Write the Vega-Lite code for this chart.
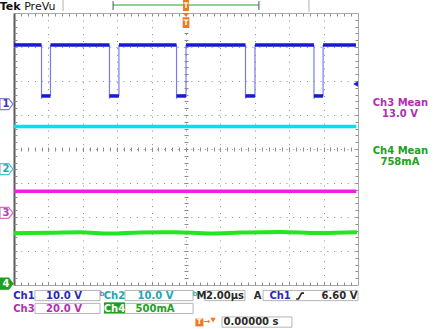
{
  "$schema": "https://vega.github.io/schema/vega-lite/v6.json",
  "width": 344,
  "height": 272,
  "autosize": "none",
  "padding": {"left": 14, "top": 13, "right": 81, "bottom": 44},
  "background": "#ffffff",
  "config": {"view": {"stroke": null}, "font": "DejaVu Sans", "axis": {"labels": false, "tickColor": "#8c8c8c", "tickWidth": 1, "grid": false, "domain": false}},
  "datasets": {
    "levels": [
      {"ch": "Ch1", "t": -10, "t2": -8.40, "v": 3.06},
      {"ch": "Ch1", "t": -7.88, "t2": -4.45, "v": 3.06},
      {"ch": "Ch1", "t": -3.90, "t2": -0.55, "v": 3.06},
      {"ch": "Ch1", "t": 0, "t2": 3.46, "v": 3.06},
      {"ch": "Ch1", "t": 4.01, "t2": 7.44, "v": 3.06},
      {"ch": "Ch1", "t": 7.97, "t2": 9.88, "v": 3.06},
      {"ch": "Ch1", "t": -8.40, "t2": -7.88, "v": 1.56},
      {"ch": "Ch1", "t": -4.45, "t2": -3.90, "v": 1.56},
      {"ch": "Ch1", "t": -0.55, "t2": 0, "v": 1.56},
      {"ch": "Ch1", "t": 3.46, "t2": 4.01, "v": 1.56},
      {"ch": "Ch1", "t": 7.44, "t2": 7.97, "v": 1.56},
      {"ch": "Ch2", "t": -10, "t2": 9.9, "v": 0.66},
      {"ch": "Ch3", "t": -10, "t2": 9.9, "v": -1.24}
    ],
    "edges": [
      {"t": -8.40, "v": 1.48, "v2": 3.06},
      {"t": -7.88, "v": 1.56, "v2": 3.06},
      {"t": -4.45, "v": 1.48, "v2": 3.06},
      {"t": -3.90, "v": 1.56, "v2": 3.06},
      {"t": -0.55, "v": 1.48, "v2": 3.06},
      {"t": 0, "v": 1.56, "v2": 3.06},
      {"t": 3.46, "v": 1.48, "v2": 3.06},
      {"t": 4.01, "v": 1.56, "v2": 3.06},
      {"t": 7.44, "v": 1.48, "v2": 3.06},
      {"t": 7.97, "v": 1.56, "v2": 3.06}
    ],
    "ch4": [
      {"t": -10, "v": -2.476},
      {"t": -7.91, "v": -2.465},
      {"t": -6.16, "v": -2.450},
      {"t": -4.42, "v": -2.488},
      {"t": -2.67, "v": -2.453},
      {"t": -0.64, "v": -2.447},
      {"t": 1.40, "v": -2.482},
      {"t": 3.14, "v": -2.459},
      {"t": 5.47, "v": -2.441},
      {"t": 7.79, "v": -2.471},
      {"t": 9.94, "v": -2.447}
    ],
    "tags": [
      {"n": "1", "t": -10.44, "tt": -10.47, "v": 1.32},
      {"n": "2", "t": -10.44, "tt": -10.47, "v": -0.59},
      {"n": "3", "t": -10.44, "tt": -10.47, "v": -1.88},
      {"n": "4", "t": -10.44, "tt": -10.47, "v": -3.96}
    ],
    "readouts": [
      {"text": "Ch1", "t": -9.42, "v": -4.33, "ch": "Ch1"},
      {"text": "10.0 V", "t": -7.09, "v": -4.33, "ch": "Ch1"},
      {"text": "Ch2", "t": -4.16, "v": -4.33, "ch": "Ch2"},
      {"text": "10.0 V", "t": -1.77, "v": -4.33, "ch": "Ch2"},
      {"text": "M", "t": 0.90, "v": -4.33, "ch": "sys"},
      {"text": "2.00µs", "t": 2.27, "v": -4.33, "ch": "sys"},
      {"text": "A", "t": 4.16, "v": -4.33, "ch": "sys"},
      {"text": "Ch1", "t": 5.47, "v": -4.33, "ch": "Ch1"},
      {"text": "6.60 V", "t": 8.92, "v": -4.33, "ch": "sys"},
      {"text": "Ch3", "t": -9.42, "v": -4.70, "ch": "Ch3"},
      {"text": "20.0 V", "t": -7.09, "v": -4.70, "ch": "Ch3"},
      {"text": "500mA", "t": -1.80, "v": -4.70, "ch": "Ch4"},
      {"text": "0.00000 s", "t": 3.78, "v": -5.09, "ch": "sys"},
      {"text": "Ch3 Mean", "t": 12.47, "v": 1.35, "ch": "Ch3"},
      {"text": "13.0 V", "t": 12.44, "v": 1.03, "ch": "Ch3"},
      {"text": "Ch4 Mean", "t": 12.47, "v": -0.06, "ch": "Ch4"},
      {"text": "758mA", "t": 12.44, "v": -0.38, "ch": "Ch4"}
    ],
    "boxes": [
      {"t": -8.78, "t2": -5.0, "v": -4.16, "v2": -4.46},
      {"t": -3.55, "t2": 0.41, "v": -4.16, "v2": -4.46},
      {"t": 1.10, "t2": 3.43, "v": -4.16, "v2": -4.46},
      {"t": 4.48, "t2": 10.0, "v": -4.16, "v2": -4.46},
      {"t": -8.78, "t2": -5.0, "v": -4.54, "v2": -4.84},
      {"t": -3.55, "t2": 0.41, "v": -4.54, "v2": -4.84},
      {"t": 2.09, "t2": 6.16, "v": -4.94, "v2": -5.24}
    ],
    "ch4tag": [{"text": "Ch4", "t": -4.77, "t2": -3.55, "tc": -4.16, "v": -4.51, "v2": -4.84, "vc": -4.70}],
    "bw": [{"text": "b", "t": -4.88, "v": -4.26, "ch": "Ch1"}, {"text": "b", "t": 0.52, "v": -4.26, "ch": "Ch2"}],
    "edgeicon": [{"t": 6.40, "v": -4.41}, {"t": 6.54, "v": -4.41}, {"t": 6.72, "v": -4.24}, {"t": 6.86, "v": -4.24}],
    "header": [{"text": "Tek", "t": -10.23, "v": 4.19}],
    "header2": [{"text": "PreVu", "t": -8.50, "v": 4.19}],
    "toplines": [
      {"t": -7.15, "v": 4.38, "v2": 4.06, "kind": "sep"},
      {"t": 7.15, "v": 4.38, "v2": 4.03, "kind": "sep"},
      {"t": -4.24, "v": 4.35, "v2": 4.09, "kind": "bracket"},
      {"t": 4.24, "v": 4.35, "v2": 4.09, "kind": "bracket"}
    ],
    "recbar": [{"t": -4.24, "t2": 4.24, "v": 4.235}],
    "trigtop": [{"t": 0, "v": 4.22}],
    "triglow": [{"t": 0, "v": 3.78}],
    "trigT": [{"text": "T", "t": 0, "v": 4.21}, {"text": "T", "t": 0, "v": 3.71}, {"text": "T", "t": 0.78, "v": -5.10}],
    "trigbottom": [{"t": 0.78, "v": -5.10}],
    "trigarrow": [{"text": "→", "t": 1.22, "v": -5.10}],
    "trigdown": [{"t": 1.57, "v": -5.03}],
    "triglevel": [{"t": 9.86, "v": 1.91}]
  },
  "resolve": {
    "scale": {"color": "independent", "fill": "independent", "stroke": "independent"},
    "axis": {"x": "independent", "y": "independent"}
  },
  "layer": [
    {
      "data": {"name": "edges"},
      "mark": {"type": "rule", "strokeWidth": 1.2, "color": "#7a7af0"},
      "encoding": {
        "x": {"field": "t", "type": "quantitative", "scale": {"domain": [-10, 10]},
          "axis": {"orient": "bottom", "values": [-8, -6, -4, -2, 0, 2, 4, 6, 8], "grid": true, "gridDash": [1, 5.88], "gridColor": "#8c8c8c", "ticks": false, "labels": false, "title": null, "domain": true, "domainColor": "#a8a8a8"}},
        "y": {"field": "v", "type": "quantitative", "scale": {"domain": [-4, 4]},
          "axis": {"orient": "left", "values": [-3, -2, -1, 0, 1, 2, 3], "grid": true, "gridDash": [1, 5.8], "gridColor": "#8c8c8c", "ticks": false, "labels": false, "title": null, "domain": true, "domainColor": "#5a5a5a", "domainWidth": 2}},
        "y2": {"field": "v2"}
      }
    },
    {
      "data": {"name": "levels"},
      "mark": {"type": "rule", "strokeWidth": 3.5},
      "encoding": {
        "x": {"field": "t", "type": "quantitative", "scale": {"domain": [-10, 10]},
          "axis": {"orient": "top", "values": [-10, -9.6, -9.2, -8.8, -8.4, -8, -7.6, -7.2, -6.8, -6.4, -6, -5.6, -5.2, -4.8, -4.4, -4, -3.6, -3.2, -2.8, -2.4, -2, -1.6, -1.2, -0.8, -0.4, 0, 0.4, 0.8, 1.2, 1.6, 2, 2.4, 2.8, 3.2, 3.6, 4, 4.4, 4.8, 5.2, 5.6, 6, 6.4, 6.8, 7.2, 7.6, 8, 8.4, 8.8, 9.2, 9.6, 10], "tickSize": -3, "labels": false, "title": null, "domain": true, "domainColor": "#a8a8a8"}},
        "x2": {"field": "t2"},
        "y": {"field": "v", "type": "quantitative", "scale": {"domain": [-4, 4]},
          "axis": {"orient": "right", "values": [-3.8, -3.6, -3.4, -3.2, -3, -2.8, -2.6, -2.4, -2.2, -2, -1.8, -1.6, -1.4, -1.2, -1, -0.8, -0.6, -0.4, -0.2, 0, 0.2, 0.4, 0.6, 0.8, 1, 1.2, 1.4, 1.6, 1.8, 2, 2.2, 2.4, 2.6, 2.8, 3, 3.2, 3.4, 3.6, 3.8], "tickSize": -3, "labels": false, "title": null, "domain": true, "domainColor": "#a8a8a8"}},
        "color": {"field": "ch", "type": "nominal", "scale": {"domain": ["Ch1", "Ch2", "Ch3"], "range": ["#1818d8", "#00e2ee", "#f01ee6"]}, "legend": null}
      }
    },
    {
      "data": {"name": "ch4"},
      "mark": {"type": "line", "strokeWidth": 4, "color": "#22e622", "interpolate": "monotone"},
      "encoding": {
        "x": {"field": "t", "type": "quantitative", "scale": {"domain": [-10, 10]},
          "axis": {"orient": "bottom", "values": [-9.6, -9.2, -8.8, -8.4, -8, -7.6, -7.2, -6.8, -6.4, -6, -5.6, -5.2, -4.8, -4.4, -4, -3.6, -3.2, -2.8, -2.4, -2, -1.6, -1.2, -0.8, -0.4, 0, 0.4, 0.8, 1.2, 1.6, 2, 2.4, 2.8, 3.2, 3.6, 4, 4.4, 4.8, 5.2, 5.6, 6, 6.4, 6.8, 7.2, 7.6, 8, 8.4, 8.8, 9.2, 9.6], "tickSize": -3, "labels": false, "title": null}},
        "y": {"field": "v", "type": "quantitative", "scale": {"domain": [-4, 4]},
          "axis": {"orient": "left", "values": [-3.8, -3.6, -3.4, -3.2, -3, -2.8, -2.6, -2.4, -2.2, -2, -1.8, -1.6, -1.4, -1.2, -1, -0.8, -0.6, -0.4, -0.2, 0, 0.2, 0.4, 0.6, 0.8, 1, 1.2, 1.4, 1.6, 1.8, 2, 2.2, 2.4, 2.6, 2.8, 3, 3.2, 3.4, 3.6, 3.8], "tickSize": -3, "labels": false, "title": null}}
      }
    },
    {
      "data": {"name": "triglevel"},
      "mark": {"type": "point", "shape": "triangle-left", "size": 30, "filled": true, "color": "#1818d8", "opacity": 1},
      "encoding": {
        "x": {"field": "t", "type": "quantitative", "scale": {"domain": [-10, 10]},
          "axis": {"orient": "bottom", "offset": -138, "values": [-9.6, -9.2, -8.8, -8.4, -8, -7.6, -7.2, -6.8, -6.4, -6, -5.6, -5.2, -4.8, -4.4, -4, -3.6, -3.2, -2.8, -2.4, -2, -1.6, -1.2, -0.8, -0.4, 0, 0.4, 0.8, 1.2, 1.6, 2, 2.4, 2.8, 3.2, 3.6, 4, 4.4, 4.8, 5.2, 5.6, 6, 6.4, 6.8, 7.2, 7.6, 8, 8.4, 8.8, 9.2, 9.6], "tickSize": 4, "labels": false, "title": null}},
        "y": {"field": "v", "type": "quantitative", "scale": {"domain": [-4, 4]},
          "axis": {"orient": "left", "offset": -174, "values": [-3.8, -3.6, -3.4, -3.2, -3, -2.8, -2.6, -2.4, -2.2, -2, -1.8, -1.6, -1.4, -1.2, -1, -0.8, -0.6, -0.4, -0.2, 0, 0.2, 0.4, 0.6, 0.8, 1, 1.2, 1.4, 1.6, 1.8, 2, 2.2, 2.4, 2.6, 2.8, 3, 3.2, 3.4, 3.6, 3.8], "tickSize": 4, "labels": false, "title": null}}
      }
    },
    {
      "data": {"name": "tags"},
      "mark": {"type": "point", "shape": "M-1,-0.85L0.35,-0.85L1,0L0.35,0.85L-1,0.85Z", "size": 169, "filled": true, "strokeWidth": 1.2, "opacity": 1},
      "encoding": {
        "x": {"field": "t", "type": "quantitative", "scale": {"domain": [-10, 10]}, "axis": null},
        "y": {"field": "v", "type": "quantitative", "scale": {"domain": [-4, 4]}, "axis": null},
        "fill": {"field": "n", "type": "nominal", "scale": {"domain": ["1", "2", "3", "4"], "range": ["#ffffff", "#ffffff", "#ffffff", "#1ea01e"]}, "legend": null},
        "stroke": {"field": "n", "type": "nominal", "scale": {"domain": ["1", "2", "3", "4"], "range": ["#8080d8", "#48c8d0", "#d070d0", "#1ea01e"]}, "legend": null}
      }
    },
    {
      "data": {"name": "tags"},
      "mark": {"type": "text", "fontSize": 10, "fontWeight": "bold", "align": "center", "baseline": "middle"},
      "encoding": {
        "x": {"field": "tt", "type": "quantitative", "scale": {"domain": [-10, 10]}, "axis": null},
        "y": {"field": "v", "type": "quantitative", "scale": {"domain": [-4, 4]}, "axis": null},
        "text": {"field": "n"},
        "color": {"field": "n", "type": "nominal", "scale": {"domain": ["1", "2", "3", "4"], "range": ["#3c3cb8", "#26a8b0", "#b040b0", "#ffffff"]}, "legend": null}
      }
    },
    {
      "data": {"name": "boxes"},
      "mark": {"type": "rect", "fill": "#ffffff", "stroke": "#b4b4b4", "strokeWidth": 1},
      "encoding": {
        "x": {"field": "t", "type": "quantitative", "scale": {"domain": [-10, 10]}, "axis": null},
        "x2": {"field": "t2"},
        "y": {"field": "v", "type": "quantitative", "scale": {"domain": [-4, 4]}, "axis": null},
        "y2": {"field": "v2"}
      }
    },
    {
      "data": {"name": "ch4tag"},
      "mark": {"type": "rect", "fill": "#1ea01e"},
      "encoding": {
        "x": {"field": "t", "type": "quantitative", "scale": {"domain": [-10, 10]}, "axis": null},
        "x2": {"field": "t2"},
        "y": {"field": "v", "type": "quantitative", "scale": {"domain": [-4, 4]}, "axis": null},
        "y2": {"field": "v2"}
      }
    },
    {
      "data": {"name": "ch4tag"},
      "mark": {"type": "text", "fontSize": 10, "fontWeight": "bold", "color": "#ffffff", "align": "center", "baseline": "middle"},
      "encoding": {
        "x": {"field": "tc", "type": "quantitative", "scale": {"domain": [-10, 10]}, "axis": null},
        "y": {"field": "vc", "type": "quantitative", "scale": {"domain": [-4, 4]}, "axis": null},
        "text": {"field": "text"}
      }
    },
    {
      "data": {"name": "readouts"},
      "mark": {"type": "text", "fontSize": 10, "fontWeight": "bold", "align": "center", "baseline": "middle"},
      "encoding": {
        "x": {"field": "t", "type": "quantitative", "scale": {"domain": [-10, 10]}, "axis": null},
        "y": {"field": "v", "type": "quantitative", "scale": {"domain": [-4, 4]}, "axis": null},
        "text": {"field": "text"},
        "color": {"field": "ch", "type": "nominal", "scale": {"domain": ["Ch1", "Ch2", "Ch3", "Ch4", "sys"], "range": ["#2a2ab8", "#22a6b0", "#b030b0", "#22a022", "#2a2a2a"]}, "legend": null}
      }
    },
    {
      "data": {"name": "bw"},
      "mark": {"type": "text", "fontSize": 7, "fontWeight": "bold", "align": "center", "baseline": "middle"},
      "encoding": {
        "x": {"field": "t", "type": "quantitative", "scale": {"domain": [-10, 10]}, "axis": null},
        "y": {"field": "v", "type": "quantitative", "scale": {"domain": [-4, 4]}, "axis": null},
        "text": {"field": "text"},
        "color": {"field": "ch", "type": "nominal", "scale": {"domain": ["Ch1", "Ch2"], "range": ["#7a7ac8", "#40b0b8"]}, "legend": null}
      }
    },
    {
      "data": {"name": "edgeicon"},
      "mark": {"type": "line", "strokeWidth": 1.6, "color": "#2a2a2a"},
      "encoding": {
        "x": {"field": "t", "type": "quantitative", "scale": {"domain": [-10, 10]}, "axis": null},
        "y": {"field": "v", "type": "quantitative", "scale": {"domain": [-4, 4]}, "axis": null}
      }
    },
    {
      "data": {"name": "header"},
      "mark": {"type": "text", "fontSize": 11, "fontWeight": "bold", "color": "#111111", "align": "center", "baseline": "middle"},
      "encoding": {
        "x": {"field": "t", "type": "quantitative", "scale": {"domain": [-10, 10]}, "axis": null},
        "y": {"field": "v", "type": "quantitative", "scale": {"domain": [-4, 4]}, "axis": null},
        "text": {"field": "text"}
      }
    },
    {
      "data": {"name": "header2"},
      "mark": {"type": "text", "fontSize": 11, "color": "#111111", "align": "center", "baseline": "middle"},
      "encoding": {
        "x": {"field": "t", "type": "quantitative", "scale": {"domain": [-10, 10]}, "axis": null},
        "y": {"field": "v", "type": "quantitative", "scale": {"domain": [-4, 4]}, "axis": null},
        "text": {"field": "text"}
      }
    },
    {
      "data": {"name": "recbar"},
      "mark": {"type": "rule", "strokeWidth": 1.5, "color": "#6cc06c"},
      "encoding": {
        "x": {"field": "t", "type": "quantitative", "scale": {"domain": [-10, 10]}, "axis": null},
        "x2": {"field": "t2"},
        "y": {"field": "v", "type": "quantitative", "scale": {"domain": [-4, 4]}, "axis": null}
      }
    },
    {
      "data": {"name": "toplines"},
      "mark": {"type": "rule", "strokeWidth": 1},
      "encoding": {
        "x": {"field": "t", "type": "quantitative", "scale": {"domain": [-10, 10]}, "axis": null},
        "y": {"field": "v", "type": "quantitative", "scale": {"domain": [-4, 4]}, "axis": null},
        "y2": {"field": "v2"},
        "color": {"field": "kind", "type": "nominal", "scale": {"domain": ["sep", "bracket"], "range": ["#b0b0b0", "#505050"]}, "legend": null}
      }
    },
    {
      "data": {"name": "trigtop"},
      "mark": {"type": "point", "shape": "M-0.55,-1L0.55,-1L0.55,1L-0.55,1Z", "size": 121, "filled": true, "color": "#f07a1e", "opacity": 1},
      "encoding": {
        "x": {"field": "t", "type": "quantitative", "scale": {"domain": [-10, 10]}, "axis": null},
        "y": {"field": "v", "type": "quantitative", "scale": {"domain": [-4, 4]}, "axis": null}
      }
    },
    {
      "data": {"name": "triglow"},
      "mark": {"type": "point", "shape": "M-0.45,-1L0.45,-1L0,-0.5Z M-0.45,-0.42L0.45,-0.42L0.45,1L-0.45,1Z", "size": 225, "filled": true, "color": "#f07a1e", "opacity": 1},
      "encoding": {
        "x": {"field": "t", "type": "quantitative", "scale": {"domain": [-10, 10]}, "axis": null},
        "y": {"field": "v", "type": "quantitative", "scale": {"domain": [-4, 4]}, "axis": null}
      }
    },
    {
      "data": {"name": "trigbottom"},
      "mark": {"type": "point", "shape": "square", "size": 64, "filled": true, "color": "#f07a1e", "opacity": 1},
      "encoding": {
        "x": {"field": "t", "type": "quantitative", "scale": {"domain": [-10, 10]}, "axis": null},
        "y": {"field": "v", "type": "quantitative", "scale": {"domain": [-4, 4]}, "axis": null}
      }
    },
    {
      "data": {"name": "trigdown"},
      "mark": {"type": "point", "shape": "triangle-down", "size": 30, "filled": true, "color": "#f07a1e", "opacity": 1},
      "encoding": {
        "x": {"field": "t", "type": "quantitative", "scale": {"domain": [-10, 10]}, "axis": null},
        "y": {"field": "v", "type": "quantitative", "scale": {"domain": [-4, 4]}, "axis": null}
      }
    },
    {
      "data": {"name": "trigarrow"},
      "mark": {"type": "text", "fontSize": 8, "fontWeight": "bold", "color": "#f07a1e", "align": "center", "baseline": "middle"},
      "encoding": {
        "x": {"field": "t", "type": "quantitative", "scale": {"domain": [-10, 10]}, "axis": null},
        "y": {"field": "v", "type": "quantitative", "scale": {"domain": [-4, 4]}, "axis": null},
        "text": {"field": "text"}
      }
    },
    {
      "data": {"name": "trigT"},
      "mark": {"type": "text", "fontSize": 7.5, "fontWeight": "bold", "color": "#ffffff", "align": "center", "baseline": "middle"},
      "encoding": {
        "x": {"field": "t", "type": "quantitative", "scale": {"domain": [-10, 10]}, "axis": null},
        "y": {"field": "v", "type": "quantitative", "scale": {"domain": [-4, 4]}, "axis": null},
        "text": {"field": "text"}
      }
    }
  ]
}
